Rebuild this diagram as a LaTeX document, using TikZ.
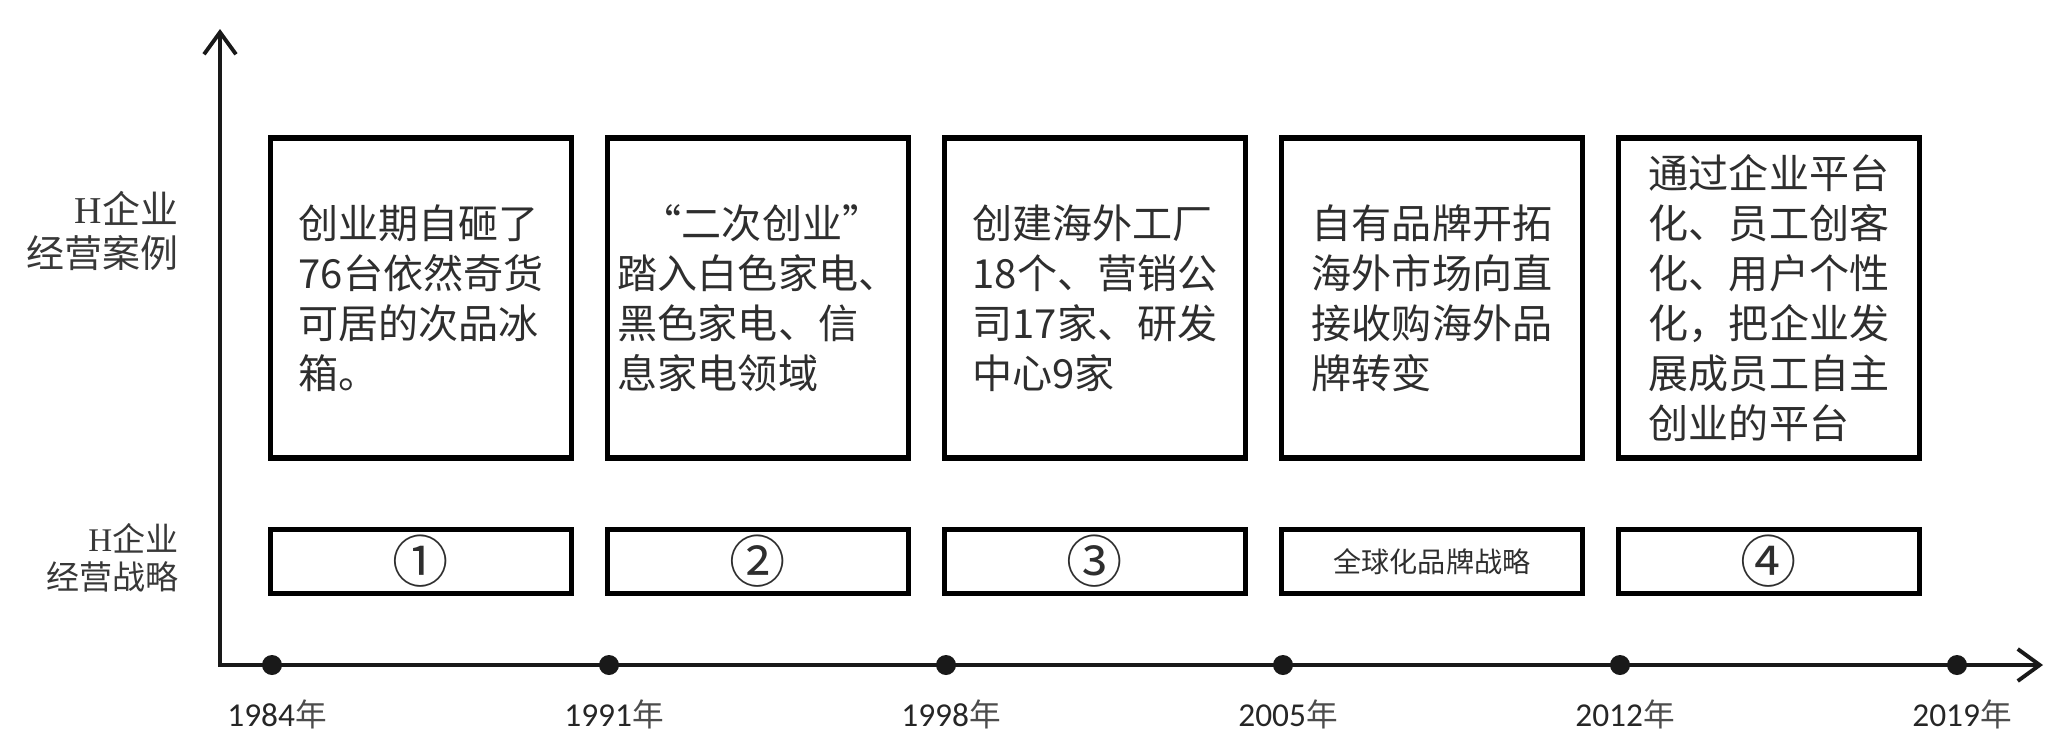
\documentclass[tikz,border=0pt]{standalone}
\usepackage{fontspec}
\setmainfont{Liberation Serif}
\newfontfamily\cjk{Noto Sans CJK SC}
\newfontfamily\yrfont{Carlito}
\usetikzlibrary{arrows.meta, positioning, calc}

\begin{document}
\begin{tikzpicture}[
    x=0.1mm, y=0.1mm,
    >={Straight Barb[length=2.2mm, width=3.2mm, line width=1.1pt]}, % 坐标轴箭头
    axis/.style={line width=1.3pt, black!90}, % 坐标轴样式
    dot/.style={circle, fill=black!90, inner sep=0pt, minimum size=2mm}, % 年份节点
    casebox/.style={draw, line width=1.5pt, minimum width=30.1mm, minimum height=32mm,
        inner sep=0pt, align=left, text=black!82,
        font=\cjk\fontsize{11.4pt}{14.2pt}\selectfont}, % 经营案例方框
    stratbox/.style={draw, line width=1.5pt, minimum width=30.1mm, minimum height=6.4mm,
        inner sep=0pt, text=black!82, font=\cjk\fontsize{16pt}{18pt}\selectfont}, % 经营战略方框
    rowlabel/.style={anchor=east, align=right, inner sep=0pt, text=black!78}, % 左侧标注
    yearlabel/.style={text=black!85, inner sep=0pt, font=\yrfont\fontsize{9.5pt}{11pt}\selectfont} % 年份标注
]
    \useasboundingbox (0,0) rectangle (2045,734);

    % 1. 坐标轴
    \coordinate (O) at (220,69);
    \coordinate (ytop) at (220,705);
    \coordinate (xend) at (2043,69);
    \draw[axis, <->] (ytop) -- (O) -- (xend);

    % 2. 年份节点与标注
    \foreach \yr [count=\i from 0] in {1984,1991,1998,2005,2012,2019} {
        \node[dot] (d\yr) at ({272+337*\i}, 69) {};
        \node[yearlabel, below=2.3mm of d\yr, xshift=0.5mm] (y\yr) {\yr{\cjk\color{black!70}\fontsize{9pt}{11pt}\selectfont 年}};
    }

    % 3. 经营案例方框
    \foreach \i/\txt in {
        1/{创业期自砸了\\76台依然奇货\\可居的次品冰\\箱。},
        2/{\hspace*{0.6em}\makebox[1em][r]{“}二次创业\makebox[1em][l]{”}\\踏入白色家电、\\黑色家电、信\\息家电领域},
        3/{创建海外工厂\\18个、营销公\\司17家、研发\\中心9家},
        4/{自有品牌开拓\\海外市场向直\\接收购海外品\\牌转变},
        5/{通过企业平台\\化、员工创客\\化、用户个性\\化，把企业发\\展成员工自主\\创业的平台}} {
        \node[casebox] (case\i) at ({84+337*\i}, 436) {\txt};
    }

    % 4. 经营战略方框
    \foreach \i/\lbl in {1/①, 2/②, 3/③, 4/{\fontsize{8pt}{9pt}\selectfont 全球化品牌战略}, 5/④} {
        \node[stratbox, below=6.6mm of case\i] (strat\i) {\lbl};
    }

    % 5. 左侧行标注
    \node[rowlabel, font=\cjk\fontsize{10.8pt}{12.6pt}\selectfont] (caselbl) at (179,503)
        {{\rmfamily H}企业\\经营案例};
    \node[rowlabel, font=\cjk\fontsize{9.4pt}{10.9pt}\selectfont] (stratlbl) at (179,176)
        {{\rmfamily H}企业\\经营战略};
\end{tikzpicture}
\end{document}
